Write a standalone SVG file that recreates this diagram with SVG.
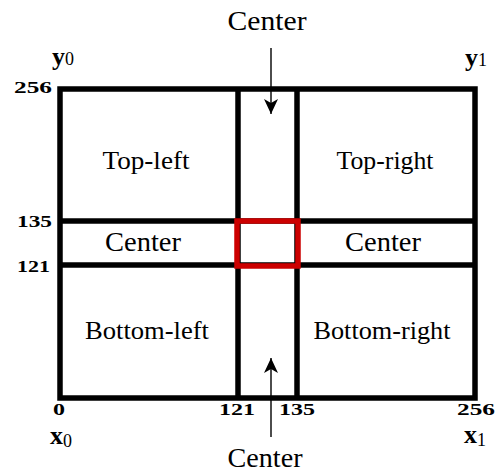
<svg xmlns="http://www.w3.org/2000/svg" width="496" height="473" viewBox="0 0 496 473">
<style>
.lbl{font-family:"Liberation Serif",serif;font-size:26px;fill:#000;text-anchor:middle}
.ctr{font-size:28px}
.num{font-family:"Liberation Serif",serif;font-size:17px;font-weight:bold;fill:#000}
.ax{font-family:"Liberation Serif",serif;font-size:26px;font-weight:bold;fill:#000}
.sub{font-size:18px;font-weight:normal}
.grid{stroke:#000;stroke-width:5.5;fill:none}
.arr{stroke:#000;stroke-width:1.4;fill:none}
</style>
<defs>
<marker id="ah" viewBox="0 0 15 14" refX="15" refY="7" markerWidth="15" markerHeight="14" markerUnits="userSpaceOnUse" orient="auto">
<path d="M0,0 L15,7 L0,14 L4,7 z" fill="#000"/>
</marker>
</defs>
<g id="grid">
<rect class="grid" x="60" y="89" width="415" height="309"/>
<line class="grid" x1="238" y1="89" x2="238" y2="398"/>
<line class="grid" x1="297" y1="89" x2="297" y2="398"/>
<line class="grid" x1="60" y1="221" x2="475" y2="221"/>
<line class="grid" x1="60" y1="265" x2="475" y2="265"/>
</g>
<g id="center-box">
<rect x="237" y="221" width="61" height="45" fill="none" stroke="#cc0000" stroke-width="5.5"/>
</g>
<g id="connectors">
<line class="arr" x1="271" y1="48" x2="271" y2="114" marker-end="url(#ah)"/>
<line class="arr" x1="271" y1="437" x2="271" y2="358" marker-end="url(#ah)"/>
</g>
<g id="region-labels">
<text class="lbl" x="146" y="169" textLength="87" lengthAdjust="spacingAndGlyphs">Top-left</text>
<text class="lbl" x="385" y="169" textLength="97" lengthAdjust="spacingAndGlyphs">Top-right</text>
<text class="lbl ctr" x="143" y="251" textLength="76" lengthAdjust="spacingAndGlyphs">Center</text>
<text class="lbl ctr" x="383" y="251" textLength="76" lengthAdjust="spacingAndGlyphs">Center</text>
<text class="lbl" x="147" y="339" textLength="124" lengthAdjust="spacingAndGlyphs">Bottom-left</text>
<text class="lbl" x="382" y="339" textLength="137" lengthAdjust="spacingAndGlyphs">Bottom-right</text>
<text class="lbl ctr" x="267" y="30" textLength="79" lengthAdjust="spacingAndGlyphs">Center</text>
<text class="lbl ctr" x="265" y="467" textLength="75" lengthAdjust="spacingAndGlyphs">Center</text>
</g>
<g id="axis-labels">
<text class="num" x="14" y="93" textLength="38" lengthAdjust="spacingAndGlyphs">256</text>
<text class="num" x="17" y="227" textLength="35" lengthAdjust="spacingAndGlyphs">135</text>
<text class="num" x="17" y="272" textLength="33" lengthAdjust="spacingAndGlyphs">121</text>
<text class="num" x="53" y="415" textLength="12" lengthAdjust="spacingAndGlyphs">0</text>
<text class="num" x="219" y="415" textLength="36" lengthAdjust="spacingAndGlyphs">121</text>
<text class="num" x="279" y="415" textLength="36" lengthAdjust="spacingAndGlyphs">135</text>
<text class="num" x="457" y="415" textLength="38" lengthAdjust="spacingAndGlyphs">256</text>
<text class="ax" x="52" y="65">y<tspan class="sub">0</tspan></text>
<text class="ax" x="465" y="66">y<tspan class="sub">1</tspan></text>
<text class="ax" x="50" y="444">x<tspan class="sub" dy="3">0</tspan></text>
<text class="ax" x="464" y="443">x<tspan class="sub" dy="3">1</tspan></text>
</g>
</svg>
